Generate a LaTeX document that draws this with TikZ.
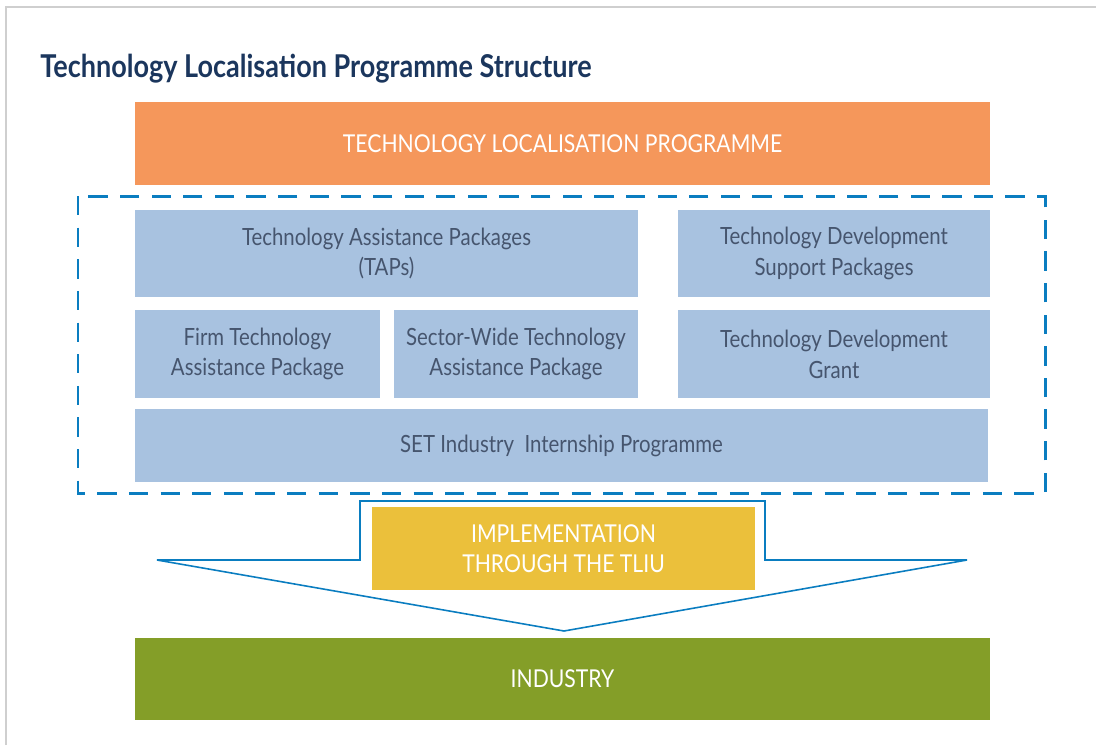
\documentclass[tikz,border=0pt]{standalone}
\usepackage{fontspec}
\setmainfont{Lato}[FakeStretch=0.86]
\usepackage{tikz}

\definecolor{tlporange}{HTML}{F5975B}
\definecolor{tlpblue}{HTML}{A8C2E0}
\definecolor{tlptext}{HTML}{46556E}
\definecolor{tlpyellow}{HTML}{EBC03B}
\definecolor{tlpgreen}{HTML}{849E28}
\definecolor{tlpnavy}{HTML}{1B365D}
\definecolor{tlpline}{HTML}{0A7DC0}
\definecolor{tlpframe}{HTML}{CFCFCF}

\tikzset{
	bandbox/.style={rectangle, fill=#1, text=white, align=center, inner sep=0pt, font=\fontsize{14}{17}\selectfont},
	packbox/.style={rectangle, fill=tlpblue, text=tlptext, align=center, inner sep=0pt, font=\fontsize{13.5}{17.5}\selectfont},
}

\begin{document}
\begin{tikzpicture}[x=0.02cm, y=-0.02cm]
	
	\useasboundingbox (0,0) rectangle (1096,745);
	\draw[tlpframe, line width=1pt] (6,745) -- (6,7) -- (1096,7);
	
	\node[anchor=base west, inner sep=0pt, text=tlpnavy, font=\fontsize{17.9}{20}\selectfont\bfseries] (title) at (40,77) {Technology Localisation Programme Structure};
	
	\node[bandbox=tlporange, minimum width=17.1cm, minimum height=1.66cm] (tlp) at (562.5,143.5) {TECHNOLOGY LOCALISATION PROGRAMME};
	
	\draw[tlpline, line width=1.7pt, dash pattern=on 11pt off 7pt] (78,196) rectangle (1045,493);
	
	\node[packbox, minimum width=10.06cm, minimum height=1.74cm] (tap) at (386.5,253.5) {Technology Assistance Packages\\(TAPs)};
	\node[packbox, minimum width=6.24cm, minimum height=1.74cm] (tdsp) at (834,253.5) {Technology Development\\Support Packages};
	\node[packbox, minimum width=4.9cm, minimum height=1.76cm] (firm) at (257.5,354) {Firm Technology\\Assistance Package};
	\node[packbox, minimum width=4.88cm, minimum height=1.76cm] (sector) at (516,354) {Sector-Wide Technology\\Assistance Package};
	\node[packbox, minimum width=6.24cm, minimum height=1.76cm] (tdg) at (834,354) {Technology Development\\Grant};
	\node[packbox, minimum width=17.06cm, minimum height=1.46cm] (set) at (561.5,445.5) {SET Industry~ Internship Programme};
	
	% arrow outline behind the TLIU box
	\draw[tlpline, line width=0.9pt, line join=miter] (360,501) -- (360,560) -- (157,560) -- (564,631) -- (967,560) -- (765,560) -- (765,501) -- cycle;
	
	\node[bandbox=tlpyellow, minimum width=7.66cm, minimum height=1.66cm] (tliu) at (563.5,548.5) {IMPLEMENTATION\\THROUGH THE TLIU};
	\node[bandbox=tlpgreen, minimum width=17.1cm, minimum height=1.64cm] (industry) at (562.5,679) {INDUSTRY};
	
\end{tikzpicture}
\end{document}
